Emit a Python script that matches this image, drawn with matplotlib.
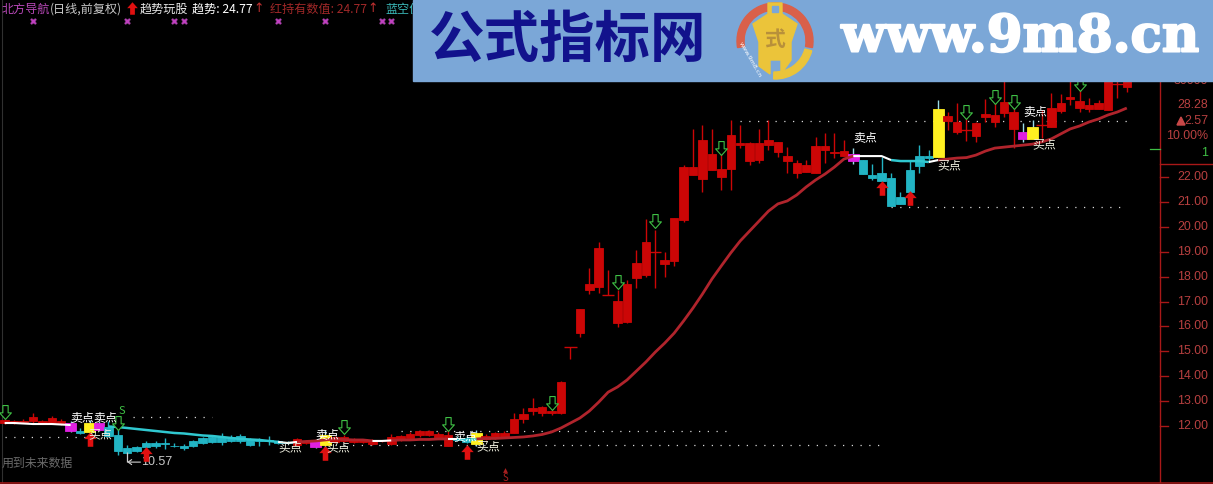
import matplotlib
matplotlib.use('Agg')
import matplotlib.pyplot as plt
import matplotlib.patheffects as pe
from matplotlib.path import Path
from matplotlib.patches import Rectangle, Wedge, Polygon
from matplotlib.transforms import Affine2D, blended_transform_factory

plt.rcParams['font.family'] = ['Noto Sans CJK SC', 'DejaVu Sans']

# candles, one entry per trading day, day 1 is the left most
opens = [12.12, 12.12, 12.16, 12.20, 12.12, 12.12, 12.08, 11.80, 11.80, 11.76,
         11.84, 11.96, 11.64, 11.12, 11.16, 11.32, 11.32, 11.32, 11.20, 11.20,
         11.40, 11.52, 11.56, 11.56, 11.56, 11.60, 11.48, 11.42, 11.42, 11.40,
         11.36, 11.24, 11.32, 11.16, 11.24, 11.36, 11.40, 11.36, 11.36, 11.28,
         11.40, 11.28, 11.44, 11.52, 11.64, 11.64, 11.52, 11.20, 11.48, 11.44,
         11.28, 11.48, 11.52, 11.56, 11.72, 12.28, 12.60, 12.52, 12.52, 12.52,
         15.17, 15.73, 17.46, 17.58, 17.26, 16.12, 16.18, 17.94, 18.06, 18.99,
         18.51, 18.63, 20.27, 22.08, 21.92, 22.28, 22.00, 22.32, 23.28, 22.64,
         22.68, 23.28, 23.00, 22.64, 22.16, 22.20, 22.16, 23.08, 22.96, 22.84,
         22.64, 22.68, 22.08, 22.16, 21.96, 21.20, 22.28, 22.84, 22.84, 22.80,
         24.25, 23.81, 23.89, 23.65, 24.41, 24.21, 24.57, 23.93, 23.53, 23.53,
         24.09, 24.01, 24.65, 25.13, 24.77, 24.73, 24.73, 24.69, 25.73, 25.61]
highs = [12.28, 12.24, 12.28, 12.52, 12.24, 12.40, 12.28, 12.20, 11.92, 12.24,
         12.20, 12.20, 11.92, 11.24, 11.20, 11.40, 11.40, 11.52, 11.32, 11.28,
         11.44, 11.56, 11.60, 11.72, 11.64, 11.68, 11.52, 11.52, 11.60, 11.44,
         11.40, 11.52, 11.44, 11.48, 11.84, 11.60, 11.64, 11.52, 11.48, 11.48,
         11.44, 11.68, 11.64, 11.76, 11.84, 11.84, 11.76, 11.84, 11.60, 11.60,
         11.84, 11.68, 11.76, 11.80, 12.52, 12.72, 13.12, 12.80, 12.76, 13.80,
         15.17, 16.70, 18.35, 19.39, 18.27, 17.46, 17.86, 19.07, 20.31, 19.87,
         18.99, 20.35, 22.48, 23.93, 24.09, 23.93, 23.08, 24.29, 24.09, 23.41,
         23.93, 24.29, 23.41, 23.20, 22.68, 22.68, 23.61, 23.77, 23.77, 23.49,
         23.16, 22.68, 22.52, 22.80, 22.16, 21.40, 22.68, 23.28, 23.08, 25.09,
         24.61, 24.97, 24.37, 24.21, 25.13, 24.97, 25.90, 25.09, 24.17, 24.29,
         24.69, 25.37, 25.33, 25.90, 25.90, 25.17, 25.09, 26.00, 25.90, 25.90]
lows = [12.08, 12.08, 12.12, 12.12, 12.08, 12.08, 12.04, 11.76, 11.68, 11.68,
        11.80, 11.56, 10.84, 10.88, 10.96, 11.04, 11.12, 11.08, 11.16, 11.04,
        11.16, 11.28, 11.32, 11.24, 11.36, 11.32, 11.20, 11.20, 11.24, 11.28,
        11.28, 11.20, 11.28, 11.12, 11.12, 11.32, 11.36, 11.32, 11.32, 11.24,
        11.36, 11.24, 11.40, 11.48, 11.56, 11.60, 11.48, 11.20, 11.40, 11.32,
        11.20, 11.44, 11.48, 11.52, 11.72, 12.12, 12.44, 12.40, 12.44, 12.48,
        14.69, 15.57, 17.30, 17.34, 17.26, 15.98, 16.12, 17.54, 17.98, 17.54,
        17.98, 18.43, 20.19, 22.08, 21.40, 22.28, 21.48, 21.48, 23.16, 22.48,
        22.56, 23.08, 22.80, 22.16, 21.96, 22.20, 22.16, 22.56, 22.76, 22.84,
        22.52, 22.12, 21.88, 21.84, 20.84, 20.92, 21.40, 22.16, 22.60, 22.80,
        23.89, 23.73, 23.45, 23.41, 24.21, 24.01, 24.41, 23.16, 23.41, 23.53,
        23.57, 24.01, 24.57, 24.89, 24.61, 24.61, 24.73, 24.69, 25.17, 25.41]
closes = [12.24, 12.20, 12.20, 12.36, 12.20, 12.32, 12.20, 12.12, 11.72, 12.12,
          12.12, 11.60, 11.00, 10.92, 11.00, 11.16, 11.20, 11.28, 11.18, 11.12,
          11.20, 11.32, 11.36, 11.36, 11.40, 11.40, 11.24, 11.38, 11.38, 11.32,
          11.32, 11.48, 11.40, 11.40, 11.64, 11.56, 11.56, 11.48, 11.46, 11.44,
          11.44, 11.56, 11.60, 11.68, 11.80, 11.80, 11.68, 11.64, 11.44, 11.36,
          11.72, 11.60, 11.72, 11.72, 12.28, 12.48, 12.72, 12.76, 12.60, 13.76,
          15.17, 16.70, 17.70, 19.15, 17.26, 17.02, 17.70, 18.55, 19.39, 18.99,
          18.67, 20.35, 22.40, 22.40, 23.49, 22.92, 22.32, 23.69, 23.37, 23.37,
          23.37, 23.49, 23.41, 22.84, 22.56, 22.48, 23.24, 23.24, 23.00, 23.04,
          22.92, 22.12, 21.96, 21.84, 20.84, 20.92, 21.40, 22.44, 22.76, 24.73,
          24.45, 24.21, 23.89, 24.17, 24.53, 24.49, 25.01, 24.61, 23.81, 24.01,
          24.09, 24.77, 24.97, 25.21, 25.05, 24.89, 24.97, 26.00, 25.73, 25.86]
days = list(range(1, len(opens) + 1))

magenta_days = [8, 11, 34, 91, 109]
yellow_days = [10, 35, 51, 100, 110]

# trend line under the candles
trend = [12.12, 12.12, 12.10, 12.08, 12.08, 12.08, 12.06, 12.04, 12.04, 12.02,
         12.00, 11.98, 11.96, 11.92, 11.88, 11.84, 11.80, 11.76, 11.72, 11.70,
         11.66, 11.62, 11.60, 11.56, 11.52, 11.48, 11.46, 11.44, 11.40, 11.36,
         11.32, 11.36, 11.38, 11.40, 11.44, 11.48, 11.46, 11.44, 11.44, 11.40,
         11.40, 11.42, 11.44, 11.44, 11.46, 11.46, 11.48, 11.48, 11.48, 11.48,
         11.48, 11.50, 11.50, 11.52, 11.54, 11.56, 11.60, 11.66, 11.76, 11.92,
         12.12, 12.32, 12.60, 12.96, 13.36, 13.57, 13.85, 14.21, 14.57, 14.97,
         15.33, 15.73, 16.22, 16.74, 17.30, 17.90, 18.43, 18.95, 19.43, 19.83,
         20.23, 20.63, 20.92, 21.04, 21.28, 21.60, 21.88, 22.12, 22.40, 22.72,
         22.84, 22.84, 22.84, 22.84, 22.68, 22.64, 22.64, 22.64, 22.60, 22.68,
         22.72, 22.76, 22.78, 22.88, 23.04, 23.16, 23.20, 23.24, 23.28, 23.32,
         23.41, 23.53, 23.73, 23.93, 24.05, 24.21, 24.33, 24.49, 24.61, 24.77]
trend_white = [(1, 8), (30, 32), (40, 42), (48, 49), (91, 95), (99, 100)]
trend_cyan = [(12, 30), (49, 51), (95, 99)]
trend_red = [(32, 40), (42, 48), (51, 91), (100, 120)]

sell_arrow_days = [1, 13, 37, 48, 59, 66, 70, 77, 103, 106, 108, 115]
sell_arrow_prices = [12.56, 12.12, 11.96, 12.08, 12.92, 17.78, 20.23, 23.16, 24.61, 25.21, 25.01, 25.73]
buy_arrow_days = [10, 16, 35, 50, 94, 97]
buy_arrow_prices = [11.48, 10.88, 10.92, 10.96, 21.56, 21.16]

sell_text_days = [9.2, 11.7, 35.2, 49.8, 92.3, 110.3]
sell_text_prices = [12.36, 12.36, 11.64, 11.56, 23.57, 24.61]
buy_text_days = [11.1, 31.3, 36.4, 52.3, 101.2, 111.2]
buy_text_prices = [11.64, 11.12, 11.12, 11.16, 22.44, 23.28]

# support and resistance dots: price, first day, last day
dot_prices = [12.36, 11.56, 11.24, 11.80, 24.25, 20.80]
dot_first = [14.6, 1, 36, 43, 79, 95]
dot_last = [23, 11, 94.4, 78, 120, 120]

signal_days = [4, 14, 19, 20, 30, 35, 41, 42]
signal_price = 28.27

axis_ticks = [22, 21, 20, 19, 18, 17, 16, 15, 14, 13, 12]
low_mark = 10.55

RED = '#CC0606'
CYAN = '#22B4C4'
MAGENTA = '#E020E0'
YELLOW = '#FFF020'
GREEN = '#3FBF45'
AXIS = '#A81818'
AXIS_TEXT = '#B84040'

fig = plt.figure(figsize=(12.13, 4.84), dpi=100, facecolor='black')
ax = fig.add_axes([0, 0, 1, 1], facecolor='black')
ax.set_xlim(0.509, 129.14)
ax.set_ylim(9.671, 29.108)
ax.axis('off')
# screen position transform for the fixed furniture, pixels from top left
screen = Affine2D().scale(1 / 1213, -1 / 484).translate(0, 1) + fig.transFigure
screen_x = blended_transform_factory(screen, ax.transData)

# dotted levels
ax.hlines(dot_prices, dot_first, dot_last, colors='#D8D8D8', linewidth=0.9,
          linestyles=(0, (1, 6)), zorder=1)


def candle_color(day, o, c):
    if day in magenta_days:
        return MAGENTA
    if day in yellow_days:
        return YELLOW
    return RED if c >= o else CYAN


colors = [candle_color(d, o, c) for d, o, c in zip(days, opens, closes)]
wick_colors = ['#9ADCE8' if c in (MAGENTA, YELLOW) else c for c in colors]
ax.vlines(days, lows, highs, colors=wick_colors, linewidth=1.0, zorder=2)
bottoms = [min(o, c) for o, c in zip(opens, closes)]
heights = [abs(o - c) for o, c in zip(opens, closes)]
widths = [1.15 if c in (MAGENTA, YELLOW) else 0.9 for c in colors]
ax.bar(days, heights, bottom=bottoms, width=widths, color=colors, edgecolor=colors,
       linewidth=0.6, zorder=3)
for d, o, c, col in zip(days, opens, closes, colors):
    if o == c:
        ax.hlines(o, d - 0.65, d + 0.65, colors=col, linewidth=1.0, zorder=3)

# trend line, coloured by state
for spans, col, lw in ((trend_red, '#B0242C', 2.0), (trend_cyan, '#30C8D0', 1.8), (trend_white, 'white', 1.5)):
    for first, last in spans:
        ax.plot(days[first - 1:last], trend[first - 1:last], color=col, linewidth=lw,
                solid_capstyle='butt', zorder=4)

up_arrow = Path([(0, 1), (0.85, 0.05), (0.38, 0.05), (0.38, -1), (-0.38, -1), (-0.38, 0.05), (-0.85, 0.05), (0, 1)], closed=True)
down_arrow = Path([(0, -1), (0.85, -0.05), (0.38, -0.05), (0.38, 1), (-0.38, 1), (-0.38, -0.05), (-0.85, -0.05), (0, -1)], closed=True)
ax.plot(sell_arrow_days, sell_arrow_prices, ls='none', marker=down_arrow, markersize=10,
        markerfacecolor='black', markeredgecolor=GREEN, markeredgewidth=0.8, zorder=6)
ax.plot(buy_arrow_days, buy_arrow_prices, ls='none', marker=up_arrow, markersize=10.5,
        color='#E01010', markeredgewidth=0, zorder=6)
ax.text(13.4, 12.6, 'S', color=GREEN, fontsize=8, ha='center', va='center', zorder=6)

for d, p in zip(sell_text_days, sell_text_prices):
    ax.text(d, p, '卖点', color='white', fontsize=8.6, ha='center', va='center', zorder=7)
for d, p in zip(buy_text_days, buy_text_prices):
    ax.text(d, p, '买点', color='#F0F0E0', fontsize=8.6, ha='center', va='center', zorder=7)

ax.plot(signal_days, [signal_price] * len(signal_days), ls='none', marker='X', markersize=4.5,
        markerfacecolor='#C040C0', markeredgecolor='#6A306A', markeredgewidth=0.4, zorder=5)

# low marker
ax.vlines(14, low_mark, 10.97, colors='#D0D0D0', linewidth=0.9, zorder=5)
ax.annotate('', xy=(14, low_mark), xytext=(15.4, low_mark), zorder=5,
            arrowprops=dict(arrowstyle='->,head_length=0.25,head_width=0.18', color='#D0D0D0', lw=0.8, shrinkA=0, shrinkB=0))
ax.text(15.5, low_mark, f'{low_mark + 0.02:.2f}', color='#C8C8C8', fontsize=9, ha='left', va='center',
        family=['Liberation Sans', 'DejaVu Sans'], zorder=5)

# price axis
ax.plot([1160, 1160], [0, 482], color=AXIS, linewidth=1.0, transform=screen, zorder=8)
ax.plot([0, 1213], [482.5, 482.5], color=AXIS, linewidth=1.1, transform=screen, zorder=8)
ax.plot([1160, 1213], [164, 164], color=AXIS, linewidth=1.0, transform=screen, zorder=8)
ax.plot([1.5, 1.5], [0, 482], color='#303030', linewidth=0.8, transform=screen, zorder=1)
for t in axis_ticks:
    ax.plot([1160, 1168], [t, t], color=AXIS, linewidth=1.0, transform=screen_x, zorder=8)
    ax.text(1208, t, f'{t:.2f}', color=AXIS_TEXT, fontsize=8.9, ha='right', va='center',
            family=['Liberation Sans', 'DejaVu Sans'], transform=screen_x)
info = [('30000', 81, AXIS_TEXT), ('28.28', 105, AXIS_TEXT), ('2.57', 121, AXIS_TEXT), ('10.00%', 136, AXIS_TEXT), ('1', 153, GREEN)]
for label, y, col in info:
    ax.text(1208, y, label, color=col, fontsize=8.9, ha='right', va='center',
            family=['Liberation Sans', 'DejaVu Sans'], transform=screen, zorder=8)
ax.add_patch(Polygon([(1177, 125), (1181, 117), (1185, 125)], closed=True, color='#C84848', transform=screen, zorder=8))
ax.plot([1150, 1160], [149, 149], color=GREEN, linewidth=0.9, transform=screen, zorder=8)

# header row
header = [('北方导航', 2, '#B848B8'), ('(日线,前复权)', 50, '#C8C8C8'), ('趋势玩股', 140, '#E8E8E8'),
          ('趋势: 24.77', 192, 'white'), ('红持有数值: 24.77', 270, '#A02828'), ('蓝空值', 385, '#3AB8B8')]
for label, x, col in header:
    ax.text(x, 9, label, color=col, fontsize=8.7, ha='left', va='center', transform=screen, zorder=8)
ax.plot([132], [8], ls='none', marker=up_arrow, markersize=9, color='#E01010', markeredgewidth=0, transform=screen, zorder=8)
for x in (259, 373):
    ax.text(x, 8, '↑', color='#C03030', fontsize=9, ha='center', va='center', family='DejaVu Sans', transform=screen, zorder=8)

ax.text(2, 463, '用到未来数据', color='#6A6A6A', fontsize=8.6, ha='left', va='center', transform=screen, zorder=8)
ax.text(505, 478, 'S', color='#A82020', fontsize=7, ha='center', va='center', transform=screen, zorder=8)
ax.plot([505], [470], ls='none', marker='^', markersize=3.5, color='#A82020', markeredgewidth=0, transform=screen, zorder=8)

# banner
ax.add_patch(Rectangle((413, 0), 800, 81, color='#7BA7D7', transform=screen, zorder=10))
ax.text(568, 41, '公式指标网', color='#12128C', fontsize=40, fontweight='bold', ha='center', va='center',
        transform=screen, zorder=11)
www = ax.text(1020, 38, 'www.9m8.cn', color='white', fontsize=37, fontweight='bold', ha='center', va='center',
              family='DejaVu Serif', transform=screen, zorder=11)
www.set_path_effects([pe.withStroke(linewidth=1.5, foreground='white')])

# logo ring, y is flipped by the screen transform so angles run clockwise
ax.add_patch(Wedge((775, 41), 38, 170, 370, width=7, color='#D9604A', transform=screen, zorder=11))
ax.add_patch(Wedge((775, 41), 38, 15, 92, width=7, color='#EBC43A', transform=screen, zorder=11))
ax.add_patch(Polygon([(768, 3), (782, 3), (782, 14), (797, 24), (791, 42), (791, 60), (781, 74), (781, 60),
                      (770, 60), (770, 74), (759, 66), (759, 42), (753, 24), (768, 14)],
                     closed=True, color='#EBC43A', transform=screen, zorder=12))
ax.add_patch(Rectangle((772, 6), 6, 6, color='#7BA7D7', transform=screen, zorder=13))
ax.text(775, 40, '式', color='#B8903A', fontsize=15, fontweight='bold', ha='center', va='center',
        transform=screen, zorder=13)
ax.text(750, 60, 'www.9m8.cn', color='white', fontsize=4.5, rotation=-60, ha='center', va='center',
        family='DejaVu Sans', transform=screen, zorder=13)

fig.savefig('out.png', dpi=100, facecolor='black')
